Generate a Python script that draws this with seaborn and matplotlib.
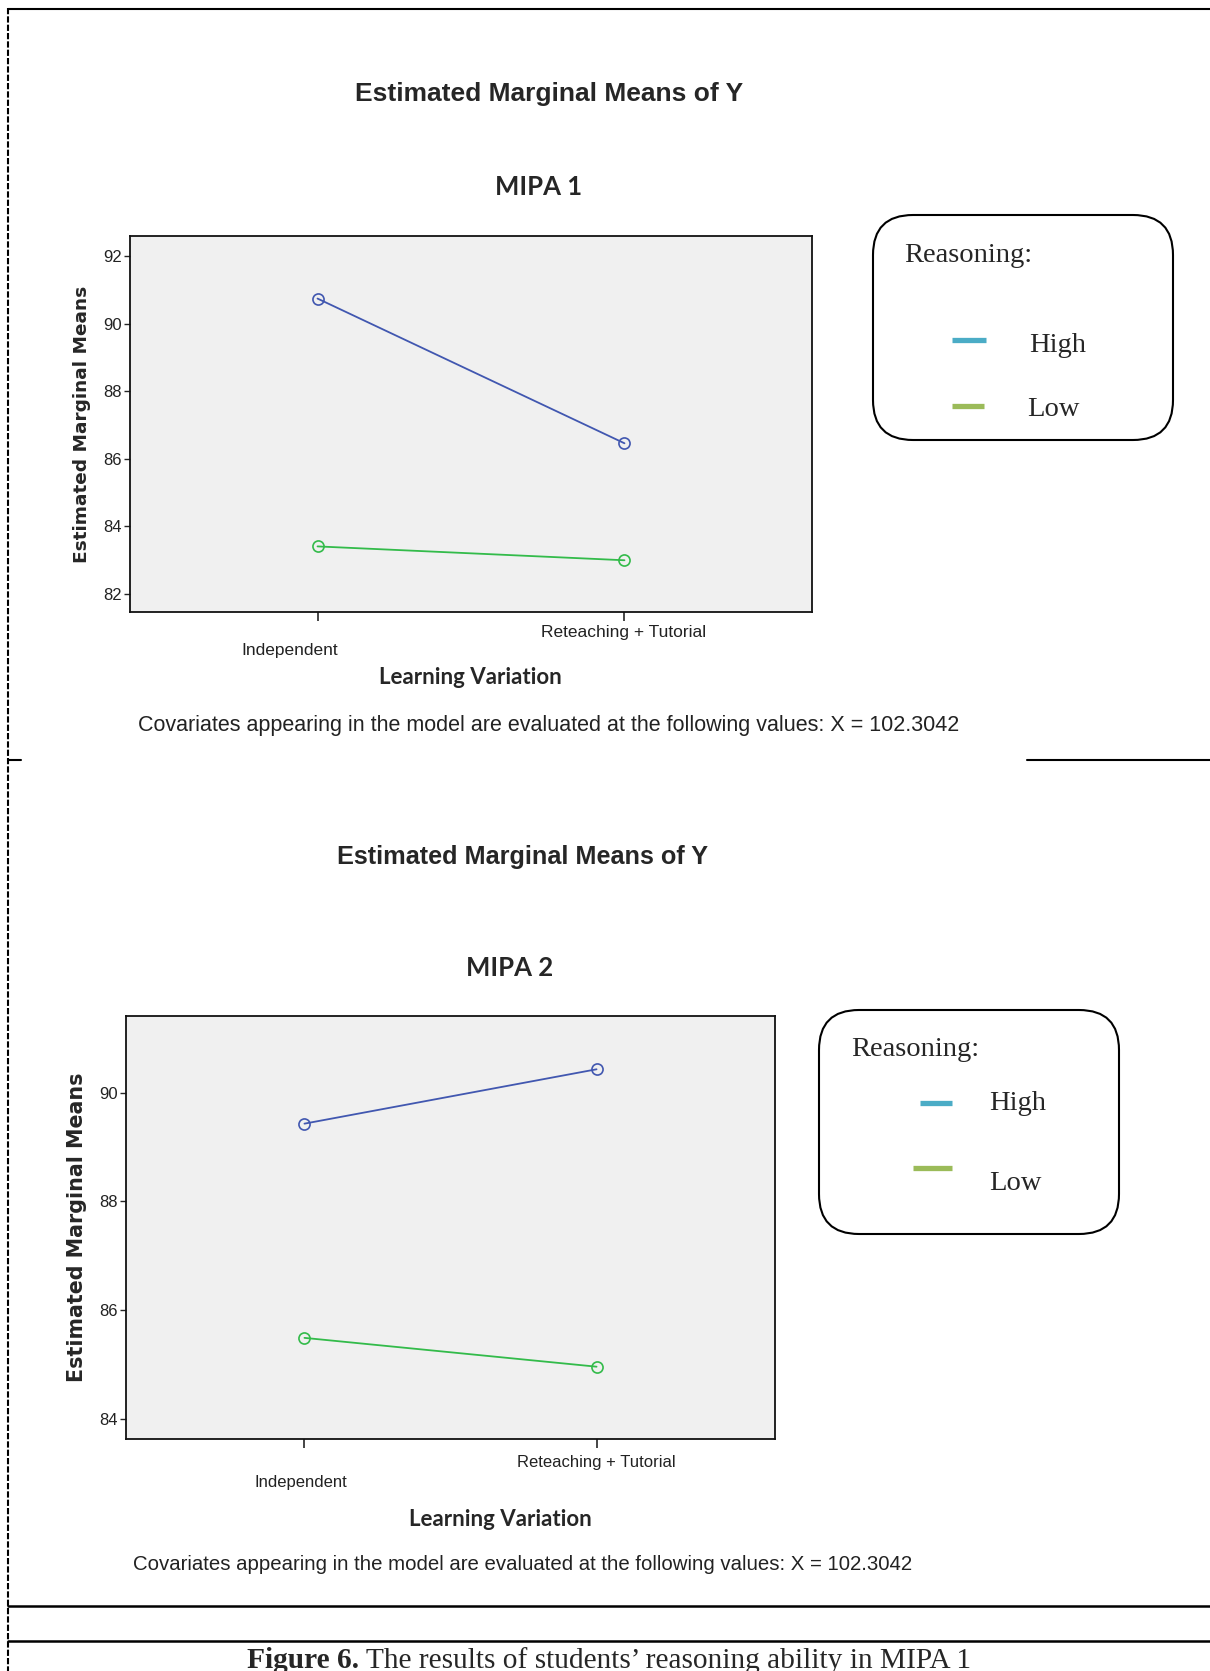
import pandas as pd
import matplotlib
matplotlib.use('Agg')
import matplotlib.pyplot as plt
from matplotlib.patches import FancyBboxPatch
import seaborn as sns

# Values
groups = ['Independent', 'Reteaching + Tutorial']
reasoning = ['High', 'Low']

mipa1_high = [90.74, 86.46]
mipa1_low = [83.41, 83.00]
mipa2_high = [89.43, 90.43]
mipa2_low = [85.49, 84.96]

mipa1_yticks = [82, 84, 86, 88, 90, 92]
mipa2_yticks = [84, 86, 88, 90]

line_colors = {'High': '#4157b0', 'Low': '#33bb4a'}
legend_colors = {'High': '#4bacc6', 'Low': '#9bbb59'}

main_title = 'Estimated Marginal Means of Y'
covariate_note = 'Covariates appearing in the model are evaluated at the following values: X = 102.3042'
caption_bold = 'Figure 6.'
caption_rest = ' The results of students\u2019 reasoning ability in MIPA 1'

W, H = 1210, 1671

sns.set_style('ticks')
plt.rcParams['font.family'] = ['Liberation Sans', 'DejaVu Sans']

fig = plt.figure(figsize=(W / 100, H / 100), dpi=100)
fig.patch.set_facecolor('white')

# overlay in pixel coordinates for the page furniture (borders, boxes, captions)
page = fig.add_axes([0, 0, 1, 1])
page.set_xlim(0, W)
page.set_ylim(H, 0)
page.axis('off')
page.patch.set_alpha(0)


def make_df(high, low):
    rows = []
    for g, h, l in zip(groups, high, low):
        rows.append({'Group': g, 'Reasoning': 'High', 'Mean': h})
        rows.append({'Group': g, 'Reasoning': 'Low', 'Mean': l})
    return pd.DataFrame(rows)


def draw_panel(box, df, ylim, yticks, tick_offsets, ylabel_size, tick_size):
    left, top, right, bottom = box
    ax = fig.add_axes([left / W, 1 - bottom / H, (right - left) / W, (bottom - top) / H])
    sns.lineplot(data=df, x='Group', y='Mean', hue='Reasoning', hue_order=reasoning,
                 palette=line_colors, marker='o', markersize=8, linewidth=1.3,
                 errorbar=None, legend=False, sort=False, ax=ax)
    # hollow circles like SPSS
    for line in ax.lines:
        c = line.get_color()
        line.set_markeredgecolor(c)
        line.set_markerfacecolor('none')
        line.set_markeredgewidth(1.2)

    ax.set_facecolor('#f0f0f0')
    ax.set_xlim(-0.611, 1.611)
    ax.set_ylim(*ylim)
    ax.set_yticks(yticks)
    ax.set_yticklabels([str(t) for t in yticks], fontsize=12, color='#222222')
    ax.set_xticks(range(len(groups)))
    ax.set_xticklabels(['' for _ in groups])
    ax.tick_params(axis='y', direction='out', length=4.5, width=1.0, pad=1.5)
    ax.tick_params(axis='x', direction='out', length=6.5, width=1.2)
    for s in ax.spines.values():
        s.set_linewidth(1.3)
        s.set_color('#111111')

    # staggered category labels under the ticks
    for i, (g, (dx, dy)) in enumerate(zip(groups, tick_offsets)):
        ax.annotate(g, xy=(i, 0), xycoords=ax.get_xaxis_transform(),
                    xytext=(dx, dy), textcoords='offset pixels',
                    ha='center', va='center', fontsize=tick_size, color='#222222')

    ax.set_xlabel('')
    ax.set_ylabel('Estimated Marginal Means', fontsize=ylabel_size, fontweight='bold',
                  family='DejaVu Sans')
    ax.yaxis.set_label_coords(-39.0 / (right - left), 0.5)
    return ax


def legend_box(x0, y0, x1, y1, title_xy, items):
    box = FancyBboxPatch((x0, y0), x1 - x0, y1 - y0,
                         boxstyle='round,pad=0,rounding_size=40',
                         fc='white', ec='black', lw=1.5)
    page.add_patch(box)
    page.text(title_xy[0], title_xy[1], 'Reasoning:', family='Liberation Serif',
              fontsize=20.5, ha='left', va='center')
    for name, (lx0, lx1, ly), (tx, ty) in items:
        page.plot([lx0, lx1], [ly, ly], color=legend_colors[name], lw=3.8,
                  solid_capstyle='butt')
        page.text(tx, ty, name, family='Liberation Serif', fontsize=20.5,
                  ha='left', va='center')


# ---- MIPA 1 ----
page.text(549, 94, main_title, fontsize=19, fontweight='bold', ha='center', va='center')
page.text(539, 187, 'MIPA 1', family='Lato', fontsize=18.5, fontweight='bold',
          ha='center', va='center')
draw_panel((130, 236, 812, 612), make_df(mipa1_high, mipa1_low), (81.47, 92.59),
           mipa1_yticks, [(-28, -38), (-1, -20)], 13.3, 12.5)
page.text(470, 678, 'Learning Variation', family='Lato', fontsize=16, fontweight='bold',
          ha='center', va='center')
page.text(549, 725, covariate_note, fontsize=15.5, ha='center', va='center', color='#222222')
legend_box(873, 215, 1173, 440, (904, 255),
           [('High', (952, 986, 340), (1029, 345)),
            ('Low', (952, 984, 406), (1027, 410))])

# ---- MIPA 2 ----
page.text(523, 857, main_title, fontsize=18.2, fontweight='bold', ha='center', va='center')
page.text(510, 968, 'MIPA 2', family='Lato', fontsize=18.5, fontweight='bold',
          ha='center', va='center')
draw_panel((126, 1016, 775, 1439), make_df(mipa2_high, mipa2_low), (83.63, 91.41),
           mipa2_yticks, [(-4, -44), (0, -23)], 14.9, 12.0)
page.text(500, 1519, 'Learning Variation', family='Lato', fontsize=16, fontweight='bold',
          ha='center', va='center')
page.text(523, 1565, covariate_note, fontsize=14.7, ha='center', va='center', color='#222222')
legend_box(819, 1010, 1119, 1234, (851, 1049),
           [('High', (920, 952, 1103), (989, 1104)),
            ('Low', (913, 952, 1168), (989, 1184))])

# ---- table borders around the figure ----
page.plot([8, 8], [8, H], color='black', lw=1.5, ls=(0, (3, 1)))
page.plot([8, W], [8.5, 8.5], color='black', lw=1.5)
page.plot([8, 21], [760, 760], color='black', lw=1.5)
page.plot([1027, W], [760, 760], color='black', lw=1.5)
page.plot([8, W], [1606, 1606], color='black', lw=1.8)
page.plot([8, W], [1641, 1641], color='black', lw=1.8)

# caption, bold lead then regular text
t1 = page.text(247, 1668, caption_bold, family='Liberation Serif', fontsize=21.2,
               fontweight='bold', ha='left', va='baseline')
page.annotate(caption_rest, xy=(1, 0), xycoords=t1, family='Liberation Serif',
              fontsize=21.2, ha='left', va='bottom')

fig.savefig('out.png', dpi=100)
